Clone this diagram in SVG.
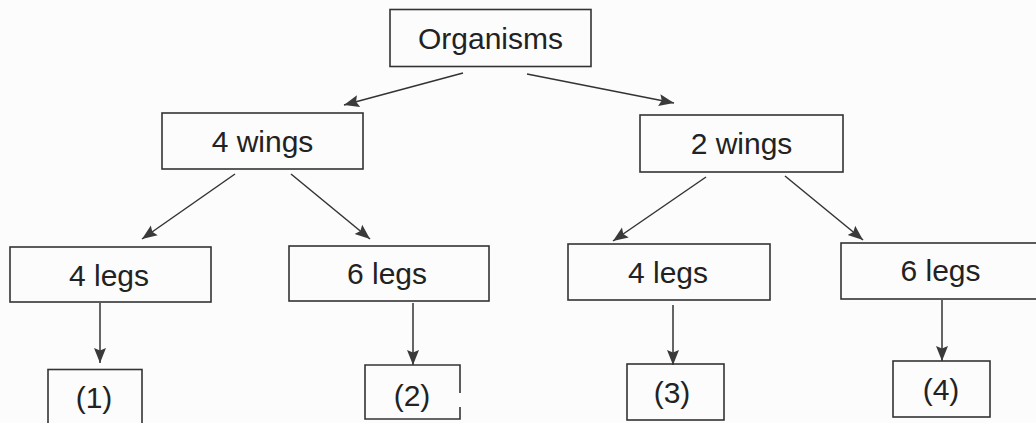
<svg xmlns="http://www.w3.org/2000/svg" width="1036" height="423" viewBox="0 0 1036 423">
<style>
.box{fill:none;stroke:#333;stroke-width:1.6}
.lbl{font-family:"Liberation Sans",Arial,sans-serif;font-size:30px;fill:#222;text-anchor:middle}
.con{stroke:#333;stroke-width:1.5;fill:none;marker-end:url(#ah)}
</style>
<defs>
<marker id="ah" markerUnits="userSpaceOnUse" markerWidth="16" markerHeight="14" refX="15" refY="7" orient="auto">
<path d="M0,1 L15,7 L0,13 L2.5,7 z" fill="#3a3a3a"/>
</marker>
</defs>
<rect width="1036" height="423" fill="#fcfcfc"/>
<g id="connectors">
<line class="con" x1="463" y1="73" x2="344" y2="105"/>
<line class="con" x1="527" y1="74" x2="674" y2="103"/>
<line class="con" x1="235" y1="174" x2="142" y2="239"/>
<line class="con" x1="291" y1="174" x2="370" y2="239"/>
<line class="con" x1="706" y1="177" x2="613" y2="241"/>
<line class="con" x1="785" y1="176" x2="863" y2="240"/>
<line class="con" x1="100" y1="303" x2="100" y2="363"/>
<line class="con" x1="413" y1="303" x2="413" y2="365"/>
<line class="con" x1="673" y1="305" x2="673" y2="365"/>
<line class="con" x1="942" y1="300" x2="942" y2="361"/>
</g>
<g id="organisms"><rect class="box" x="390" y="9.5" width="201" height="57"/><text class="lbl" x="490.5" y="49">Organisms</text></g>
<g id="wings4"><rect class="box" x="162" y="113" width="201" height="56"/><text class="lbl" x="262.5" y="152">4 wings</text></g>
<g id="wings2"><rect class="box" x="640" y="115" width="203" height="57"/><text class="lbl" x="741.5" y="154">2 wings</text></g>
<g id="legs4a"><rect class="box" x="10" y="247" width="201" height="55"/><text class="lbl" x="109" y="286">4 legs</text></g>
<g id="legs6a"><rect class="box" x="289" y="246" width="200" height="55"/><text class="lbl" x="387" y="284">6 legs</text></g>
<g id="legs4b"><rect class="box" x="568" y="244" width="202" height="56"/><text class="lbl" x="668" y="283">4 legs</text></g>
<g id="legs6b"><rect class="box" x="841" y="243" width="210" height="56"/><text class="lbl" x="940.5" y="281">6 legs</text></g>
<g id="n1"><rect class="box" x="48" y="369.5" width="94" height="60"/><text class="lbl" x="94" y="408">(1)</text></g>
<g id="n2"><path class="box" d="M460,393 L460,365 L365,365 L365,419 L460,419 L460,407"/><text class="lbl" x="412" y="406">(2)</text></g>
<g id="n3"><rect class="box" x="627" y="364" width="97" height="56"/><text class="lbl" x="672" y="403">(3)</text></g>
<g id="n4"><rect class="box" x="893" y="361" width="97" height="56"/><text class="lbl" x="941" y="400">(4)</text></g>
</svg>
